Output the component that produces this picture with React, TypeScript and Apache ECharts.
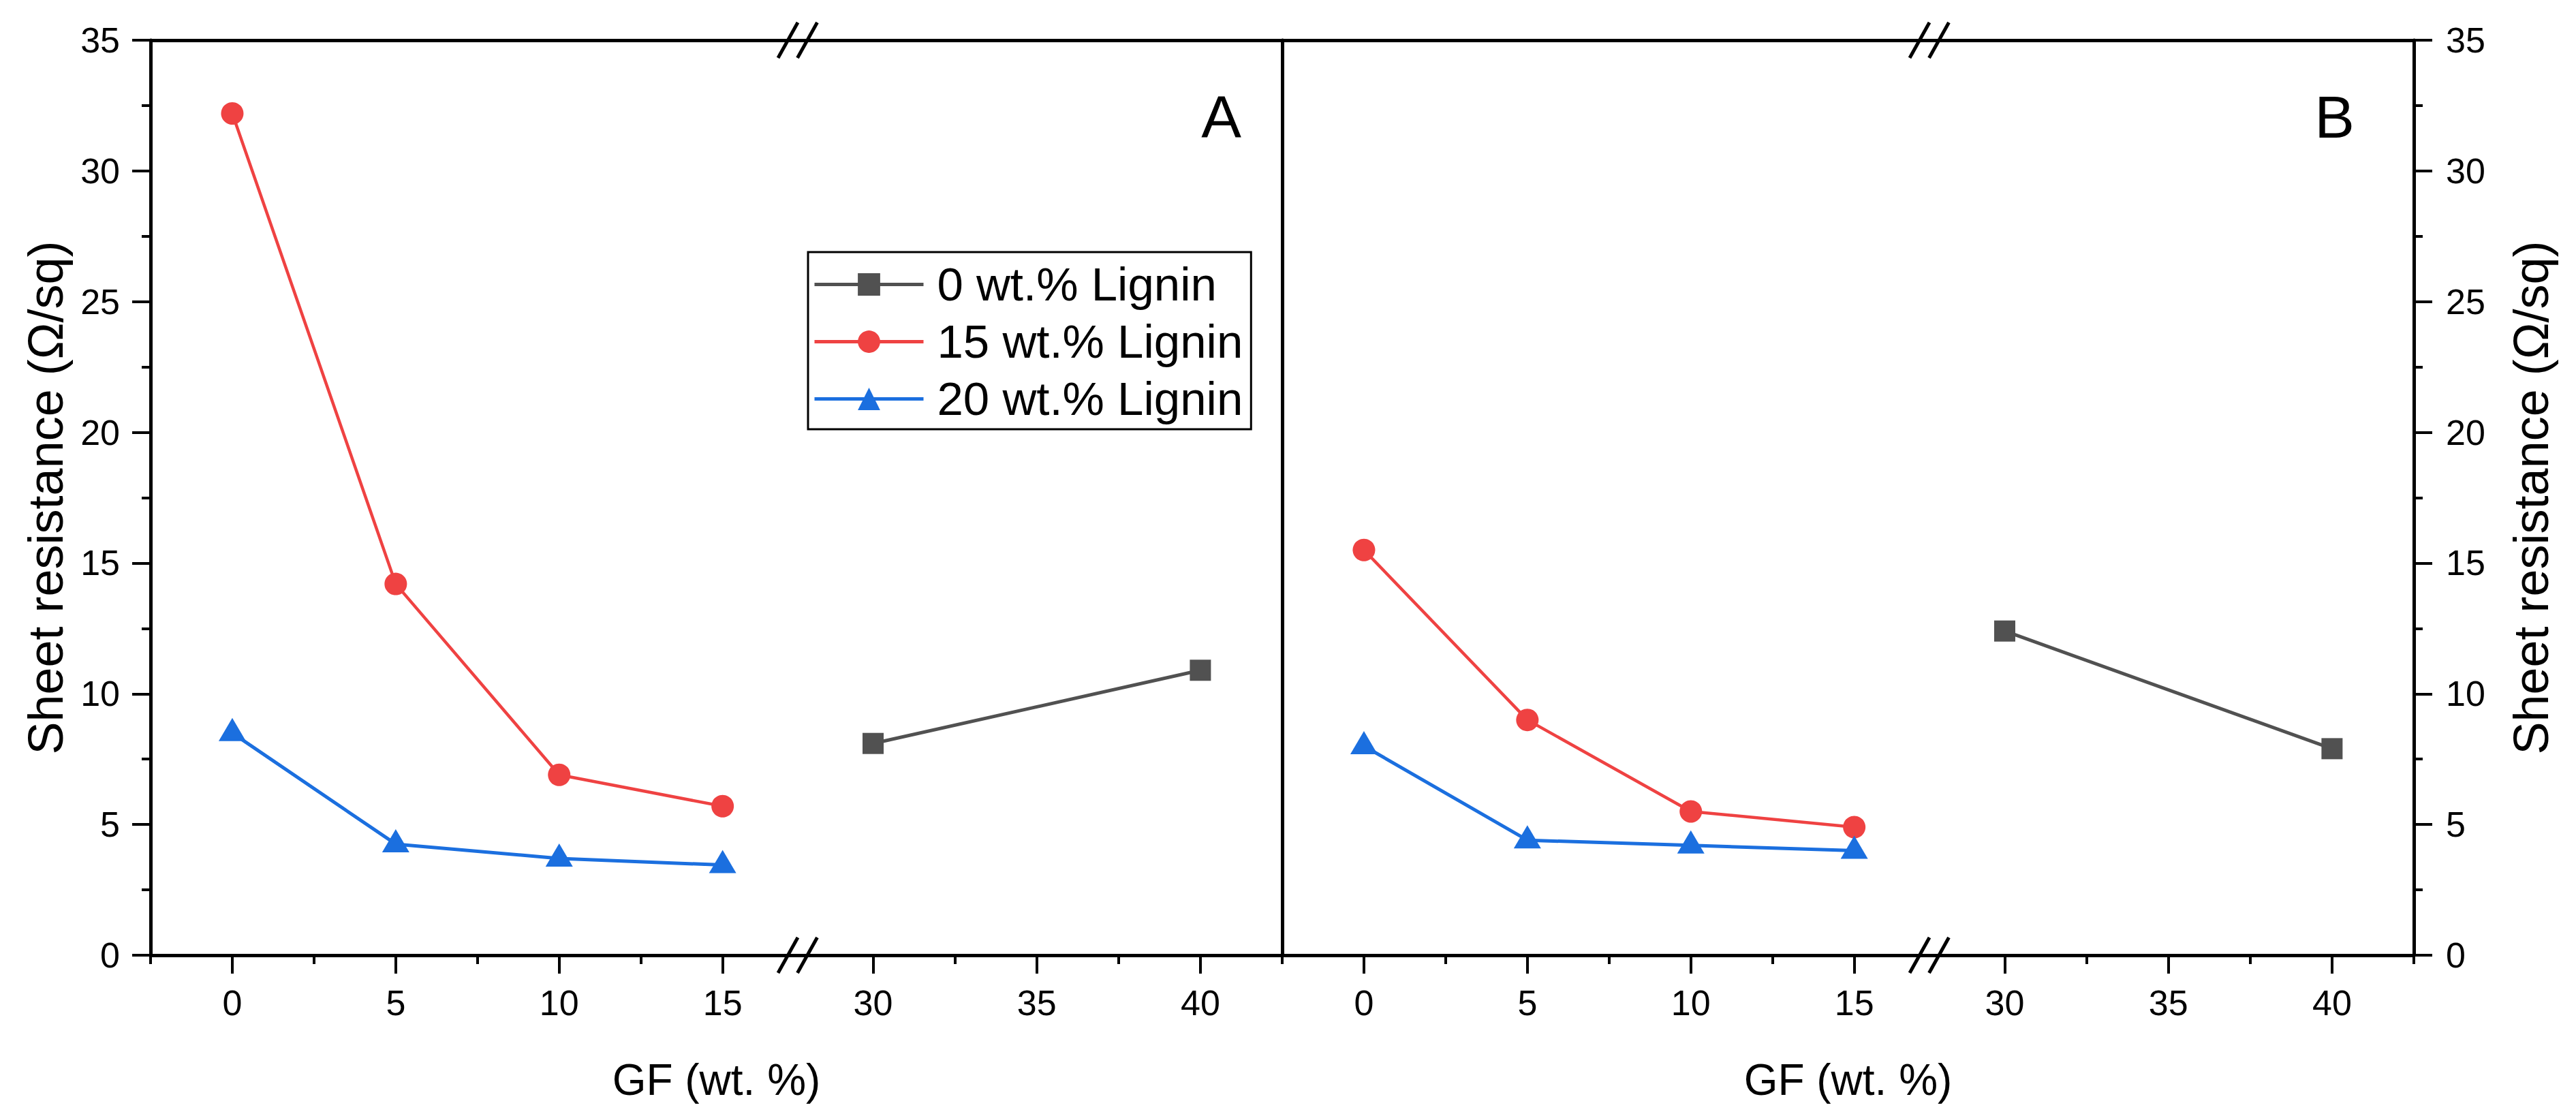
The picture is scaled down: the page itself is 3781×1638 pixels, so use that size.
import { useEffect, useRef } from 'react';
import * as echarts from 'echarts';

// ---- data ----
const seriesNames = ['0 wt.% Lignin', '15 wt.% Lignin', '20 wt.% Lignin'];
const gfLow = [0, 5, 10, 15];
const gfHigh = [30, 40];

const panelA0 = [8.1, 10.9];
const panelA15 = [32.2, 14.2, 6.9, 5.7];
const panelA20 = [8.5, 4.25, 3.7, 3.45];

const panelB0 = [12.4, 7.9];
const panelB15 = [15.5, 9.0, 5.5, 4.9];
const panelB20 = [8.0, 4.4, 4.2, 4.0];

const lowTicks = [0, 5, 10, 15];
const lowMinorTicks = [-2.5, 2.5, 7.5, 12.5];
const highTicks = [30, 35, 40];
const highMinorTicks = [32.5, 37.5, 42.5];
const lowRange = [-2.5, 17.3];
const highRange = [27.7, 42.5];
const yRange = [0, 35];

const panelLabels = ['A', 'B'];
const xTitle = 'GF (wt. %)';
const yTitle = 'Sheet resistance (Ω/sq)';

// ---- layout / style ----
const FONT = '"Liberation Sans", Arial, Helvetica, sans-serif';
const TOP = 59;
const PLOT_H = 1343;
const PANEL_LEFT = [221, 1882];
const LOW_W = 950;
const HIGH_W = 711;
const PANEL_W = LOW_W + HIGH_W;
const COLORS = ['#515151', '#ef4242', '#1b6fdf'];
const LINE_W = [5, 4.5, 5];
const AXIS_W = 5;
const TICK_W = 4;

const axisLineStyle = { color: '#000', width: AXIS_W };
const tickLineStyle = { color: '#000', width: TICK_W };

function mainX(gridIndex: number, ticks: number[], range: number[]) {
  return {
    type: 'value',
    gridIndex,
    min: range[0],
    max: range[1],
    position: 'bottom',
    axisLine: { show: true, onZero: false, lineStyle: axisLineStyle },
    axisTick: { show: true, customValues: ticks, length: 27, lineStyle: tickLineStyle },
    axisLabel: {
      show: true,
      customValues: ticks,
      fontSize: 52,
      margin: 44,
      color: '#000',
      fontFamily: FONT,
    },
    splitLine: { show: false },
  };
}

function minorX(gridIndex: number, ticks: number[], range: number[]) {
  return {
    type: 'value',
    gridIndex,
    min: range[0],
    max: range[1],
    position: 'bottom',
    axisLine: { show: false, onZero: false },
    axisTick: { show: true, customValues: ticks, length: 13, lineStyle: tickLineStyle },
    axisLabel: { show: false },
    splitLine: { show: false },
  };
}

function topX(gridIndex: number, range: number[]) {
  return {
    type: 'value',
    gridIndex,
    min: range[0],
    max: range[1],
    position: 'top',
    axisLine: { show: true, onZero: false, lineStyle: axisLineStyle },
    axisTick: { show: false },
    axisLabel: { show: false },
    splitLine: { show: false },
  };
}

function yAxisFor(gridIndex: number, kind: 'left' | 'right' | 'divider' | 'hidden') {
  const base: any = {
    type: 'value',
    gridIndex,
    min: yRange[0],
    max: yRange[1],
    interval: 5,
    splitLine: { show: false },
    minorSplitLine: { show: false },
  };
  if (kind === 'hidden') return { ...base, show: false };
  if (kind === 'divider') {
    return {
      ...base,
      position: 'right',
      axisLine: { show: true, onZero: false, lineStyle: axisLineStyle },
      axisTick: { show: false },
      axisLabel: { show: false },
    };
  }
  return {
    ...base,
    position: kind,
    axisLine: { show: true, onZero: false, lineStyle: axisLineStyle },
    axisTick: { show: true, length: 27, lineStyle: tickLineStyle },
    minorTick: { show: true, splitNumber: 2, length: 13, lineStyle: tickLineStyle },
    axisLabel: { fontSize: 52, margin: kind === 'left' ? 45 : 47, color: '#000', fontFamily: FONT },
    name: yTitle,
    nameLocation: 'middle',
    nameRotate: 90,
    nameGap: kind === 'left' ? 118 : 136,
    nameTextStyle: { fontSize: 72, color: '#000', fontFamily: FONT },
  };
}

function lineSeries(nameIdx: number, gridIndex: number, xs: number[], ys: number[]) {
  const symbols = ['rect', 'circle', 'triangle'];
  const sizes: any[] = [31, 33, [40, 34]];
  return {
    name: seriesNames[nameIdx],
    type: 'line',
    xAxisIndex: gridIndex * 3,
    yAxisIndex: gridIndex,
    data: xs.map((x, i) => [x, ys[i]]),
    symbol: symbols[nameIdx],
    symbolSize: sizes[nameIdx],
    symbolOffset: nameIdx === 2 ? [0, -5] : [0, 0],
    showAllSymbol: true,
    lineStyle: { color: COLORS[nameIdx], width: LINE_W[nameIdx] },
    itemStyle: { color: COLORS[nameIdx] },
    z: 3 + nameIdx,
  };
}

export default function App() {
  const chartRef = useRef<HTMLDivElement>(null);

  useEffect(() => {
    if (!chartRef.current) return;
    document.body.style.margin = '0';

    const chart = echarts.init(chartRef.current, null, { renderer: 'svg' });

    const grids: any[] = [];
    const xAxes: any[] = [];
    const yAxes: any[] = [];
    PANEL_LEFT.forEach((left, p) => {
      grids.push({ left, top: TOP, width: LOW_W, height: PLOT_H });
      grids.push({ left: left + LOW_W, top: TOP, width: HIGH_W, height: PLOT_H });
      const gLow = p * 2;
      const gHigh = p * 2 + 1;
      xAxes.push(mainX(gLow, lowTicks, lowRange), minorX(gLow, lowMinorTicks, lowRange), topX(gLow, lowRange));
      xAxes.push(mainX(gHigh, highTicks, highRange), minorX(gHigh, highMinorTicks, highRange), topX(gHigh, highRange));
    });
    yAxes.push(yAxisFor(0, 'left'), yAxisFor(1, 'divider'), yAxisFor(2, 'hidden'), yAxisFor(3, 'right'));

    const series = [
      lineSeries(0, 1, gfHigh, panelA0),
      lineSeries(1, 0, gfLow, panelA15),
      lineSeries(2, 0, gfLow, panelA20),
      lineSeries(0, 3, gfHigh, panelB0),
      lineSeries(1, 2, gfLow, panelB15),
      lineSeries(2, 2, gfLow, panelB20),
    ];

    // axis-break marks and panel texts
    const graphics: any[] = [];
    PANEL_LEFT.forEach((left, p) => {
      const xb = left + LOW_W;
      [TOP, TOP + PLOT_H].forEach((y) => {
        [-14.5, 14].forEach((off) => {
          graphics.push({
            type: 'line',
            z: 100,
            shape: { x1: xb + off - 14.5, y1: y + 26, x2: xb + off + 14.5, y2: y - 26 },
            style: { stroke: '#000', lineWidth: 5 },
          });
        });
      });
      graphics.push({
        type: 'text',
        z: 100,
        x: left + PANEL_W / 2,
        y: 1585,
        style: {
          text: xTitle,
          fontSize: 64,
          fontFamily: FONT,
          fill: '#000',
          textAlign: 'center',
          textVerticalAlign: 'middle',
        },
      });
      graphics.push({
        type: 'text',
        z: 100,
        x: p === 0 ? 1822 : 3456,
        y: 171,
        style: {
          text: panelLabels[p],
          fontSize: 88,
          fontFamily: FONT,
          fill: '#000',
          textAlign: 'right',
          textVerticalAlign: 'middle',
        },
      });
    });

    const option: any = {
      animation: false,
      backgroundColor: '#fff',
      textStyle: { fontFamily: FONT },
      grid: grids,
      xAxis: xAxes,
      yAxis: yAxes,
      legend: {
        data: seriesNames,
        orient: 'vertical',
        left: 1186,
        top: 370,
        itemWidth: 160,
        itemHeight: 41,
        itemGap: 15,
        padding: [13, 12, 10, 7],
        borderColor: '#000',
        borderWidth: 3,
        backgroundColor: '#fff',
        selectedMode: false,
        lineStyle: { width: 5 },
        textStyle: { fontSize: 69, color: '#000', fontFamily: FONT, padding: [0, 0, 0, 15] },
      },
      series,
      graphic: graphics,
    };

    chart.setOption(option);

    const handleResize = () => chart.resize();
    window.addEventListener('resize', handleResize);

    return () => {
      window.removeEventListener('resize', handleResize);
      chart.dispose();
    };
  }, []);

  return <div ref={chartRef} style={{ width: '3781px', height: '1638px' }} />;
}
